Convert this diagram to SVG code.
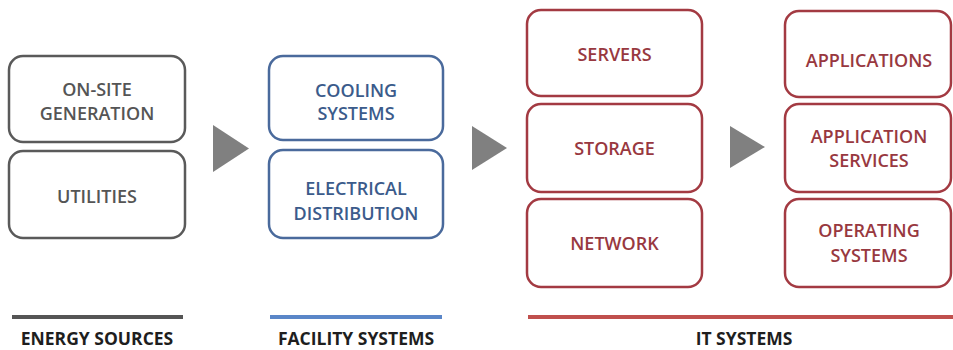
<svg xmlns="http://www.w3.org/2000/svg" width="953" height="350" viewBox="0 0 953 350">
<style>
.box{fill:#fff;stroke-width:2.5}
.g{stroke:#5a5a5a}
.b{stroke:#4a6a9c}
.r{stroke:#a33a42}
.t{font-family:"Open Sans","Liberation Sans",sans-serif;font-weight:600;font-size:18px;text-anchor:middle}
.tg{fill:#555555}
.tb{fill:#3b5b8b}
.tr{fill:#983840}
.lbl{font-family:"Open Sans","Liberation Sans",sans-serif;font-weight:700;font-size:17.5px;text-anchor:middle;fill:#1e1e1e}
.arr{fill:#808080}
</style>
<rect width="953" height="350" fill="#fff"/>
<g id="on-site-generation"><rect class="box g" x="9" y="56" width="176" height="86" rx="14"/><text class="t tg" x="97" y="96">ON-SITE</text><text class="t tg" x="97" y="120">GENERATION</text></g>
<g id="utilities"><rect class="box g" x="9" y="151" width="176" height="87" rx="14"/><text class="t tg" x="97" y="203">UTILITIES</text></g>
<g id="cooling-systems"><rect class="box b" x="269" y="56" width="174" height="84" rx="14"/><text class="t tb" x="356" y="97">COOLING</text><text class="t tb" x="356" y="120">SYSTEMS</text></g>
<g id="electrical-distribution"><rect class="box b" x="269" y="150" width="174" height="88" rx="14"/><text class="t tb" x="356" y="195">ELECTRICAL</text><text class="t tb" x="356" y="220">DISTRIBUTION</text></g>
<g id="servers"><rect class="box r" x="527" y="10" width="175" height="86" rx="14"/><text class="t tr" x="614.5" y="61">SERVERS</text></g>
<g id="storage"><rect class="box r" x="527" y="104" width="175" height="88" rx="14"/><text class="t tr" x="614.5" y="155">STORAGE</text></g>
<g id="network"><rect class="box r" x="527" y="199" width="175" height="88" rx="14"/><text class="t tr" x="614.5" y="250">NETWORK</text></g>
<g id="applications"><rect class="box r" x="785" y="11" width="166" height="86" rx="14"/><text class="t tr" x="869" y="67">APPLICATIONS</text></g>
<g id="application-services"><rect class="box r" x="785" y="104" width="166" height="88" rx="14"/><text class="t tr" x="869" y="143">APPLICATION</text><text class="t tr" x="869" y="167">SERVICES</text></g>
<g id="operating-systems"><rect class="box r" x="785" y="199" width="166" height="88" rx="14"/><text class="t tr" x="869" y="237">OPERATING</text><text class="t tr" x="869" y="262">SYSTEMS</text></g>
<g id="connectors">
<polygon class="arr" points="213,125 249,148.5 213,172"/>
<polygon class="arr" points="472,126 507,148 472,170"/>
<polygon class="arr" points="730,126 765,147 730,168"/>
</g>
<g id="legend">
<rect x="12" y="315" width="171" height="4" fill="#555555"/>
<rect x="270" y="315" width="172" height="4" fill="#5a86c8"/>
<rect x="528" y="315" width="425" height="4" fill="#c0504d"/>
<text class="lbl" x="97" y="345">ENERGY SOURCES</text>
<text class="lbl" x="356" y="345">FACILITY SYSTEMS</text>
<text class="lbl" x="744" y="345">IT SYSTEMS</text>
</g>
</svg>
